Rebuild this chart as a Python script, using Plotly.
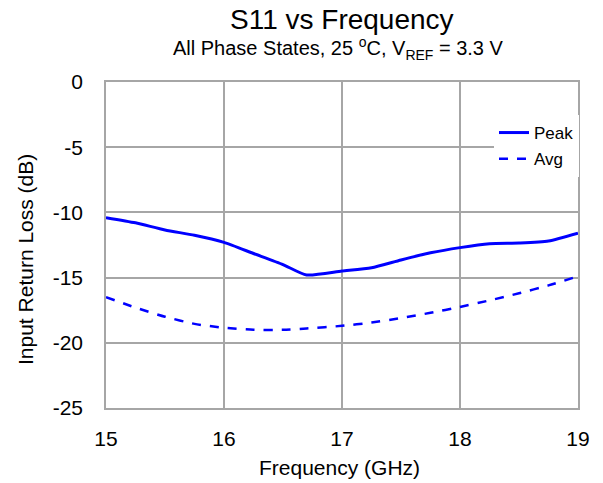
import plotly.graph_objects as go

freq = [15, 15.25, 15.5, 15.75, 16, 16.25, 16.5, 16.7, 17, 17.25, 17.5, 17.75, 18, 18.25, 18.5, 18.75, 19]
peak = [-10.4, -10.8, -11.35, -11.75, -12.3, -13.15, -14.0, -14.8, -14.5, -14.25, -13.65, -13.1, -12.7, -12.4, -12.35, -12.2, -11.6]
avg = [-16.5, -17.3, -18.0, -18.55, -18.85, -19.0, -19.0, -18.9, -18.7, -18.45, -18.1, -17.7, -17.25, -16.75, -16.2, -15.6, -14.9]
x_ticks = [15, 16, 17, 18, 19]
y_ticks = [0, -5, -10, -15, -20, -25]

L, R, T, B = 106, 578, 82, 408
W, H = 603, 483
def px(x):
    return (x - L) / (R - L)
def py(y):
    return (B - y) / (B - T)

grid = "#a6a6a6"
font = "Liberation Sans, Arial, sans-serif"
fig = go.Figure()
fig.add_trace(go.Scatter(x=freq, y=peak, mode="lines", name="Peak", legendgroup="a",
                         line=dict(color="#0000ff", width=3, shape="spline", smoothing=0.6)))
fig.add_trace(go.Scatter(x=freq, y=avg, mode="lines", name="Avg", legendgroup="b",
                         line=dict(color="#0000ff", width=2.5, dash="dash", shape="spline", smoothing=0.6)))

annots = [
    dict(text="S11 vs Frequency", x=px(342), y=py(20), font=dict(size=28)),
    dict(text="All Phase States, 25 <sup>o</sup>C, V<sub>REF</sub> = 3.3 V", x=px(338), y=py(49), font=dict(size=20)),
    dict(text="Frequency (GHz)", x=px(339), y=py(467), font=dict(size=21)),
    dict(text="Input Return Loss (dB)", x=px(25), y=py(260), font=dict(size=21), textangle=-90),
]
for a in annots:
    a.update(xref="paper", yref="paper", xanchor="center", yanchor="middle", showarrow=False)
    a["font"]["color"] = "black"
    a["font"]["family"] = font

fig.update_layout(
    width=W, height=H,
    margin=dict(l=L, r=W - R, t=T, b=H - B),
    paper_bgcolor="white", plot_bgcolor="white",
    font=dict(family=font, color="black"),
    annotations=annots,
    showlegend=True,
    legend=dict(x=px(494), y=py(115), xanchor="left", yanchor="top", bgcolor="white",
                font=dict(size=17), borderwidth=0, tracegroupgap=1, itemwidth=30),
    xaxis=dict(range=[15, 19], tickvals=x_ticks, ticktext=[str(v) for v in x_ticks],
               showgrid=True, gridcolor=grid, gridwidth=1.5,
               showline=True, linecolor=grid, linewidth=1.5, mirror=True,
               ticks="", tickfont=dict(size=21), zeroline=False, ticklabelstandoff=11),
    yaxis=dict(range=[-25, 0], tickvals=y_ticks, ticktext=[str(v) for v in y_ticks],
               showgrid=True, gridcolor=grid, gridwidth=1.5,
               showline=True, linecolor=grid, linewidth=1.5, mirror=True,
               ticks="", tickfont=dict(size=21), zeroline=False, ticklabelstandoff=17),
)
fig.write_html("out.html")
